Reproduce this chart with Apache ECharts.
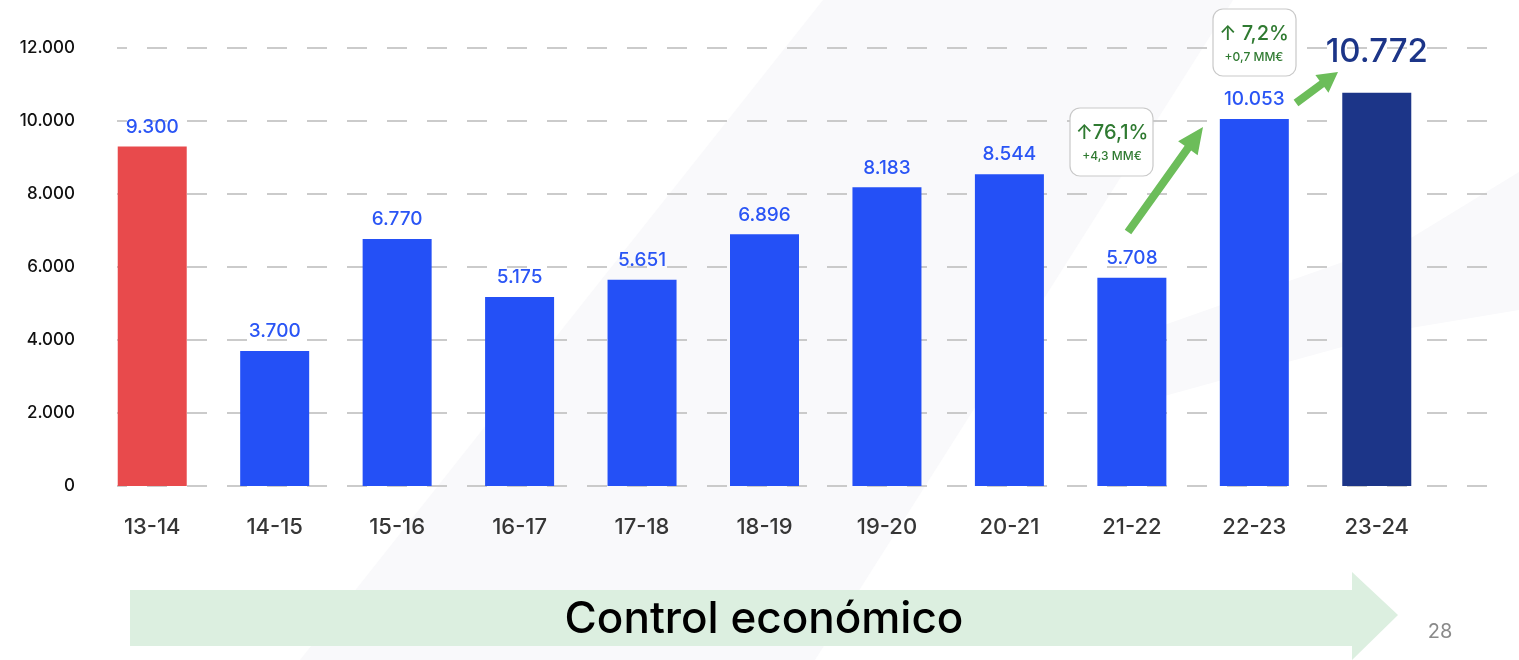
<!DOCTYPE html>
<html>
<head>
<meta charset="utf-8">
<script src="https://cdn.jsdelivr.net/npm/echarts@6/dist/echarts.min.js"></script>
<style>
html,body{margin:0;padding:0;background:#fff;}
#chart{width:1519px;height:660px;}
</style>
</head>
<body>
<div id="chart"></div>
<script>
const categories = ['13-14','14-15','15-16','16-17','17-18','18-19','19-20','20-21','21-22','22-23','23-24'];
const values = [9300,3700,6770,5175,5651,6896,8183,8544,5708,10053,10772];
const yTicks = [0,2000,4000,6000,8000,10000,12000];
const growth1 = ['76,1%','+4,3 MM€'];
const growth2 = ['7,2%','+0,7 MM€'];
const footerText = 'Control económico';
const pageNumber = '28';

const BLUE = '#2450f6', RED = '#e84a4c', NAVY = '#1c3588', GREEN_T = '#2f7a31', ARROW_G = '#6cbd5a';
const FONT = 'Inter, "Noto Sans", sans-serif';

function fmt(v){ return String(v).replace(/\B(?=(\d{3})+(?!\d))/g,'.'); }

function arrowPoly(x1,y1,x2,y2,w,L,H){
  const dx=x2-x1, dy=y2-y1, len=Math.hypot(dx,dy);
  const ux=dx/len, uy=dy/len, nx=-uy, ny=ux;
  const bx=x2-L*ux, by=y2-L*uy;
  return [
    [x1+nx*w/2, y1+ny*w/2],
    [bx+nx*w/2, by+ny*w/2],
    [bx+nx*H/2, by+ny*H/2],
    [x2, y2],
    [bx-nx*H/2, by-ny*H/2],
    [bx-nx*w/2, by-ny*w/2],
    [x1-nx*w/2, y1-ny*w/2]
  ];
}

const last = values.length - 1;
const barData = values.map((v,i)=>{
  const color = i===0 ? RED : (i===last ? NAVY : BLUE);
  const d = {value:v, itemStyle:{color:color}};
  if(i===last){
    d.label = {fontSize:33, color:NAVY, fontWeight:500, distance:24};
  }
  return d;
});

const chart = echarts.init(document.getElementById('chart'));
chart.setOption({
  animation:false,
  backgroundColor:'#ffffff',
  grid:[
    {left:117, right:19, top:48, bottom:174},
    {left:91, right:81, top:48, bottom:174}
  ],
  xAxis:[
    {gridIndex:0, type:'value', min:0, max:1, show:false},
    {gridIndex:1, type:'category', data:categories,
     axisLine:{show:false}, axisTick:{show:false},
     axisLabel:{margin:30, fontSize:22, fontWeight:500, color:'#363636', fontFamily:FONT}}
  ],
  yAxis:[
    {gridIndex:0, type:'value', min:yTicks[0], max:yTicks[yTicks.length-1], interval:yTicks[1]-yTicks[0],
     axisLine:{show:false}, axisTick:{show:false},
     axisLabel:{margin:42, fontSize:17, fontWeight:500, color:'#111', fontFamily:FONT, formatter:v=>fmt(v)},
     splitLine:{show:true, lineStyle:{color:'#bbbbbb', width:1.5, type:[20,20], dashOffset:10}}},
    {gridIndex:1, type:'value', min:yTicks[0], max:yTicks[yTicks.length-1], show:false, splitLine:{show:false}}
  ],
  series:[{
    type:'bar', xAxisIndex:1, yAxisIndex:1, barWidth:69, z:5,
    data:barData,
    label:{show:true, position:'top', distance:10, fontSize:19, fontWeight:500, color:'#2a55f5', fontFamily:FONT,
      formatter:p=>fmt(p.value)}
  }],
  graphic:[
    {type:'polygon', z:-10, silent:true, shape:{points:[[823,0],[1233,0],[815,660],[300,660]]}, style:{fill:'#f9f9fb'}},
    {type:'polygon', z:-10, silent:true, shape:{points:[[1519,172],[1411,238],[1150,330],[1150,400],[1411,328],[1519,310]]}, style:{fill:'#f9f9fb'}},
    // footer arrow
    {type:'polygon', z:1, shape:{points:[[130,590],[1352,590],[1352,572],[1398,615],[1352,660],[1352,646],[130,646]]}, style:{fill:'#dcefe0'}},
    {type:'text', z:2, style:{text:footerText, x:764, y:620, align:'center', verticalAlign:'middle', fontSize:44, fontWeight:500, fill:'#000', fontFamily:FONT}},
    {type:'text', z:2, style:{text:pageNumber, x:1440, y:632, align:'center', verticalAlign:'middle', fontSize:20, fill:'#8a8a8a', fontFamily:FONT}},
    // annotation boxes
    {type:'rect', z:20, shape:{x:1070, y:108, width:83, height:68, r:10}, style:{fill:'#fff', stroke:'#c9c9c9', lineWidth:1.2}},
    {type:'text', z:21, style:{text:'↑'+growth1[0], x:1112, y:133, align:'center', verticalAlign:'middle', fontSize:20, fontWeight:500, fill:GREEN_T, fontFamily:FONT}},
    {type:'text', z:21, style:{text:growth1[1], x:1112, y:156, align:'center', verticalAlign:'middle', fontSize:12, fontWeight:500, fill:GREEN_T, fontFamily:FONT}},
    {type:'rect', z:20, shape:{x:1213, y:9, width:83, height:67, r:10}, style:{fill:'#fff', stroke:'#c9c9c9', lineWidth:1.2}},
    {type:'text', z:21, style:{text:'↑ '+growth2[0], x:1254, y:34, align:'center', verticalAlign:'middle', fontSize:20, fontWeight:500, fill:GREEN_T, fontFamily:FONT}},
    {type:'text', z:21, style:{text:growth2[1], x:1254, y:57, align:'center', verticalAlign:'middle', fontSize:12, fontWeight:500, fill:GREEN_T, fontFamily:FONT}},
    // green arrows
    {type:'polygon', z:22, shape:{points:arrowPoly(1128,232,1203,127,8,26,24)}, style:{fill:ARROW_G}},
    {type:'polygon', z:22, shape:{points:arrowPoly(1296,103,1338,72,8,20,22)}, style:{fill:ARROW_G}}
  ]
});
</script>
</body>
</html>
